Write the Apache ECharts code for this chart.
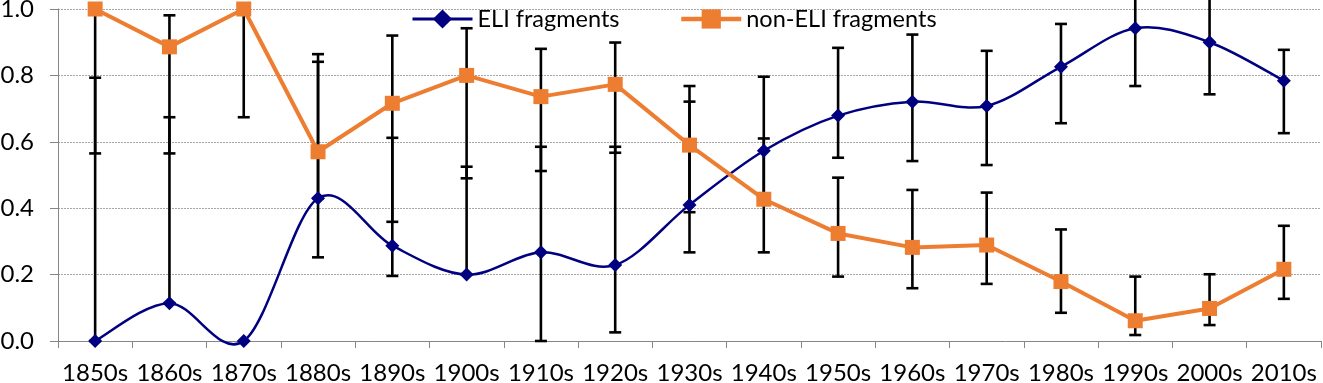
<!DOCTYPE html>
<html>
<head>
<meta charset="utf-8">
<script src="https://cdn.jsdelivr.net/npm/echarts@6/dist/echarts.min.js"></script>
<style>
  html, body { margin: 0; padding: 0; background: #fff; }
  #chart { width: 1323px; height: 383px; }
</style>
</head>
<body>
<div id="chart"></div>
<script>
const decades = ['1850s', '1860s', '1870s', '1880s', '1890s', '1900s', '1910s', '1920s', '1930s',
  '1940s', '1950s', '1960s', '1970s', '1980s', '1990s', '2000s', '2010s'];

// proportions
const eliShare = [0.0, 0.114, 0.0, 0.43, 0.287, 0.20, 0.267, 0.229, 0.41,
  0.573, 0.679, 0.721, 0.708, 0.826, 0.942, 0.90, 0.784];
const nonEliShare = [1.0, 0.886, 1.0, 0.57, 0.716, 0.80, 0.736, 0.773, 0.59,
  0.427, 0.324, 0.282, 0.289, 0.179, 0.061, 0.098, 0.216];

// error bar ends
const eliLow = [0.0, 0.114, 0.0, 0.252, 0.196, 0.20, 0.0, 0.026, 0.267,
  0.43, 0.552, 0.542, 0.53, 0.656, 0.768, 0.743, 0.626];
const eliHigh = [0.793, 0.674, 0.0, 0.841, 0.612, 0.525, 0.585, 0.585, 0.721,
  0.796, 0.883, 0.923, 0.874, 0.955, 1.06, 1.06, 0.877];
const nonEliLow = [0.565, 0.565, 0.674, 0.43, 0.359, 0.49, 0.512, 0.567, 0.388,
  0.267, 0.194, 0.159, 0.172, 0.085, 0.018, 0.048, 0.127];
const nonEliHigh = [1.0, 0.981, 1.0, 0.864, 0.92, 0.942, 0.88, 0.899, 0.768,
  0.61, 0.492, 0.455, 0.447, 0.336, 0.194, 0.201, 0.347];

const yTicks = [0, 0.2, 0.4, 0.6, 0.8, 1.0];

const FONT = 'Lato';
const NAVY = '#000080';
const ORANGE = '#ED7D31';

function errorData(low, high) {
  return decades.map((d, i) => [i, low[i], high[i]]);
}

function renderErrorBar(params, api) {
  const i = api.value(0);
  const lo = api.coord([i, api.value(1)]);
  const hi = api.coord([i, api.value(2)]);
  if (Math.abs(lo[1] - hi[1]) < 0.5) return null;
  const half = 6;
  const style = { stroke: '#000', lineWidth: 2.6 };
  return {
    type: 'group',
    children: [
      { type: 'line', shape: { x1: lo[0], y1: lo[1], x2: hi[0], y2: hi[1] }, style },
      { type: 'line', shape: { x1: lo[0] - half, y1: lo[1], x2: lo[0] + half, y2: lo[1] }, style },
      { type: 'line', shape: { x1: hi[0] - half, y1: hi[1], x2: hi[0] + half, y2: hi[1] }, style }
    ]
  };
}

// Excel-style smoothed line (cardinal spline) through the ELI points
function renderSmooth(params, api) {
  if (params.dataIndex !== 0) return null;
  const pts = eliShare.map((v, i) => api.coord([i, v]));
  const n = pts.length;
  const path = [];
  path.push('M' + pts[0][0] + ' ' + pts[0][1]);
  for (let i = 0; i < n - 1; i++) {
    const p0 = pts[Math.max(i - 1, 0)];
    const p1 = pts[i];
    const p2 = pts[i + 1];
    const p3 = pts[Math.min(i + 2, n - 1)];
    const c1 = [p1[0] + (p2[0] - p0[0]) / 6, p1[1] + (p2[1] - p0[1]) / 6];
    const c2 = [p2[0] - (p3[0] - p1[0]) / 6, p2[1] - (p3[1] - p1[1]) / 6];
    path.push('C' + c1[0] + ' ' + c1[1] + ' ' + c2[0] + ' ' + c2[1] + ' ' + p2[0] + ' ' + p2[1]);
  }
  return {
    type: 'path',
    shape: { pathData: path.join(' ') },
    style: { fill: null, stroke: NAVY, lineWidth: 2.5 }
  };
}

const chart = echarts.init(document.getElementById('chart'), null, { renderer: 'canvas' });

const legendText = { fontFamily: FONT, fontSize: 23.5, color: '#000' };

chart.setOption({
  backgroundColor: '#fff',
  animation: false,
  textStyle: { fontFamily: FONT },
  grid: { left: 58, right: 2, top: 9, bottom: 42, outerBoundsMode: 'none' },
  legend: [
    { data: ['ELI fragments'], left: 411, top: 7, itemWidth: 60, itemHeight: 24, itemGap: 0,
      textStyle: legendText, padding: 0,
      lineStyle: { color: NAVY, width: 3, opacity: 1 } },
    { data: ['non-ELI fragments'], left: 679, top: 7, itemWidth: 60, itemHeight: 24, itemGap: 0,
      textStyle: legendText, padding: 0,
      lineStyle: { color: ORANGE, width: 4.5, opacity: 1 } }
  ],
  xAxis: {
    type: 'category',
    data: decades,
    boundaryGap: true,
    axisLine: { lineStyle: { color: '#868686', width: 1 } },
    axisTick: { show: true, length: 7, lineStyle: { color: '#868686' } },
    axisLabel: { fontFamily: FONT, fontSize: 24, color: '#000', margin: 20, interval: 0 },
    splitLine: { show: false }
  },
  yAxis: {
    type: 'value',
    min: 0,
    max: 1,
    interval: 0.2,
    axisLine: { show: true, lineStyle: { color: '#868686', width: 1 } },
    axisTick: { show: true, length: 8, lineStyle: { color: '#868686' } },
    axisLabel: {
      fontFamily: FONT, fontSize: 24, color: '#000', margin: 24,
      customValues: yTicks,
      formatter: v => v.toFixed(1)
    },
    splitLine: { show: true, lineStyle: { color: '#a6a6a6', type: [2, 1], width: 1 } }
  },
  series: [
    {
      name: 'eliErr', type: 'custom', renderItem: renderErrorBar,
      data: errorData(eliLow, eliHigh), z: 1, silent: true
    },
    {
      name: 'nonEliErr', type: 'custom', renderItem: renderErrorBar,
      data: errorData(nonEliLow, nonEliHigh), z: 1, silent: true
    },
    {
      name: 'eliCurve', type: 'custom', renderItem: renderSmooth,
      data: eliShare.map((v, i) => [i, v]), z: 2, silent: true
    },
    {
      name: 'ELI fragments',
      type: 'line',
      data: eliShare,
      symbol: 'diamond',
      symbolSize: 14,
      showAllSymbol: true,
      color: NAVY,
      lineStyle: { color: NAVY, width: 0, opacity: 0 },
      itemStyle: { color: NAVY },
      z: 3
    },
    {
      name: 'non-ELI fragments',
      type: 'line',
      data: nonEliShare,
      symbol: 'rect',
      symbolSize: 15,
      showAllSymbol: true,
      color: ORANGE,
      lineStyle: { color: ORANGE, width: 4 },
      itemStyle: { color: ORANGE },
      z: 4
    }
  ]
});
</script>
</body>
</html>
